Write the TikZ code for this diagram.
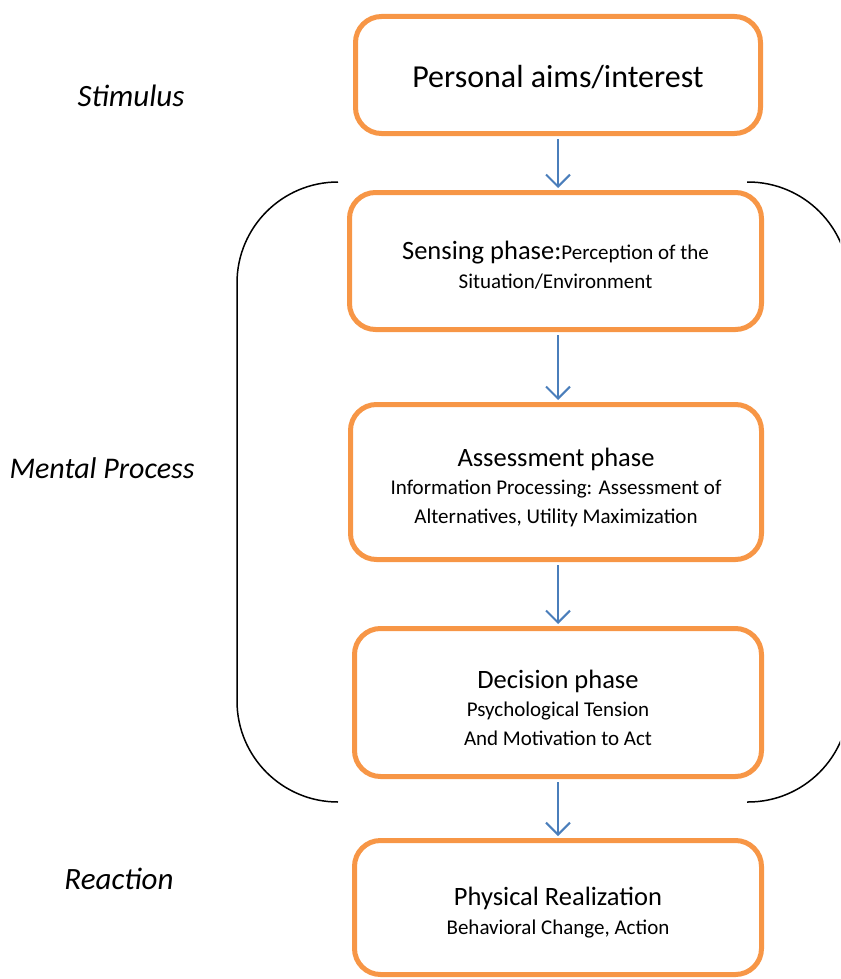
\documentclass[tikz,border=0pt]{standalone}
\usepackage{fontspec}
\setmainfont{Carlito}
\usetikzlibrary{arrows.meta}
\definecolor{boxorange}{HTML}{F79646}
\definecolor{arrblue}{HTML}{4A7EBB}
\tikzset{
  box/.style={draw=boxorange, line width=5pt, rounded corners=26pt, inner sep=0pt},
  txt/.style={align=center, inner sep=0pt, font=\fontsize{21}{28.5}\selectfont},
  flow/.style={draw=arrblue, line width=2pt, -{Straight Barb[length=12pt,width=24pt,line width=2pt]}, shorten <=3pt, shorten >=2pt},
  brace/.style={draw=black, line width=1.5pt, rounded corners=101pt},
  lab/.style={font=\fontsize{31}{36}\selectfont\itshape},
}
\newcommand{\bigtxt}{\fontsize{26.5}{28.5}\selectfont}
\begin{document}
\begin{tikzpicture}[x=1pt,y=-1pt]
\useasboundingbox (0,0) rectangle (840,979);
\clip (0,0) rectangle (840,979);
% brackets
\draw[brace] (338,802) -- (237,802) -- (237,182) -- (338,182);
\draw[brace] (747,802) -- (849,802) -- (849,182) -- (747,182);
% boxes
\node[box, minimum width=405pt, minimum height=117pt] (b1) at (558,75) {};
\node[box, minimum width=412pt, minimum height=137pt] (b2) at (555.5,261) {};
\node[box, minimum width=411pt, minimum height=155pt] (b3) at (556,482) {};
\node[box, minimum width=407pt, minimum height=148pt] (b4) at (558,702.5) {};
\node[box, minimum width=407pt, minimum height=134pt] (b5) at (558,907.5) {};
% texts
\node[txt, font=\fontsize{32}{36}\selectfont] (t1) at ([yshift=-2pt]b1.center) {Personal aims/interest};
\node[txt] (t2) at ([yshift=-4pt]b2.center)
  {{\bigtxt Sensing phase:}Perception of the\\Situation/Environment};
\node[txt] (t3) at ([yshift=-5pt]b3.center)
  {{\bigtxt Assessment phase}\\Information Processing: Assessment of\\Alternatives, Utility Maximization};
\node[txt] (t4) at ([yshift=-5pt]b4.center)
  {{\bigtxt Decision phase}\\Psychological Tension\\And Motivation to Act};
\node[txt] (t5) at ([yshift=-5pt]b5.center)
  {{\bigtxt Physical Realization}\\Behavioral Change, Action};
% arrows
\draw[flow] (b1.south) -- (b1.south |- b2.north);
\draw[flow] (b2.south -| b1.south) -- (b1.south |- b3.north);
\draw[flow] (b3.south -| b1.south) -- (b1.south |- b4.north);
\draw[flow] (b4.south -| b1.south) -- (b1.south |- b5.north);
% labels
\node[lab] (stim) at (131,96) {Stimulus};
\node[lab, font=\fontsize{30}{36}\selectfont\itshape] (ment) at (102,468) {Mental Process};
\node[lab] (reac) at (119,879) {Reaction};
\end{tikzpicture}
\end{document}
